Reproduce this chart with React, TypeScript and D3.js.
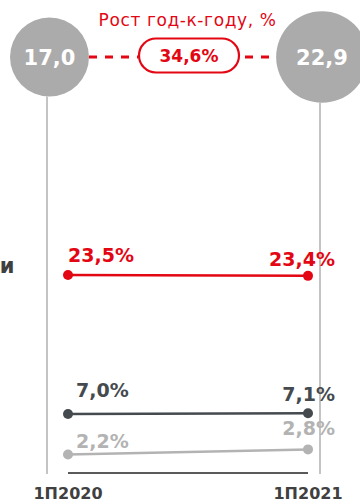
import React from "react";
import * as d3 from "d3";

const periods = ["1П2020", "1П2021"];
const totals = [17.0, 22.9];
const growthLabel = "34,6%";
const titleText = "Рост год-к-году, %";
const seriesRed = [23.5, 23.4];
const seriesDark = [7.0, 7.1];
const seriesGray = [2.2, 2.8];
const cutLabel = "и";

const W = 360;
const H = 502;
const RED = "#e30613";
const DARK = "#454a4f";
const GRAY = "#b3b3b3";
const CIRCLE = "#ababab";
const VLINE = "#c4c4c4";
const FONT = "'DejaVu Sans', Verdana, sans-serif";

const fmt = (v: number) => v.toFixed(1).replace(".", ",");

export default function App() {
  const xData = d3.scalePoint<string>().domain(periods).range([68, 308]);
  const xLine = d3.scalePoint<string>().domain(periods).range([47, 320]);
  const xCircle = d3.scalePoint<string>().domain(periods).range([49.5, 322]);
  const y = d3.scaleLinear().domain([0, 23.5]).range([473, 275]);
  const r = d3.scaleSqrt().domain([0, 17]).range([0, 39.5]);
  const cy = 57;

  const series = [
    { values: seriesRed, color: RED, labelDy: [-13, -10], sw: 2.5 },
    { values: seriesDark, color: DARK, labelDy: [-17, -12], sw: 2.5 },
    { values: seriesGray, color: GRAY, labelDy: [-6, -14], sw: 2.5 },
  ];

  const line = d3
    .line<[number, number]>()
    .x((d) => d[0])
    .y((d) => d[1]);

  return (
    <svg width={W} height={H} style={{ display: "block", position: "absolute", left: 0, top: 0 }} fontFamily={FONT}>
      {/* vertical guide lines */}
      {periods.map((p, i) => (
        <line key={p} x1={xLine(p)} x2={xLine(p)} y1={cy + r(totals[i])} y2={474} stroke={VLINE} strokeWidth={2} />
      ))}
      {/* dashed connector */}
      <line x1={xCircle(periods[0])! + r(totals[0])} x2={138} y1={cy} y2={cy} stroke={RED} strokeWidth={3} strokeDasharray="8 8" />
      <line x1={245} x2={xCircle(periods[1])! - r(totals[1])} y1={cy} y2={cy} stroke={RED} strokeWidth={3} strokeDasharray="8 8" />
      {/* circles */}
      {periods.map((p, i) => (
        <g key={p}>
          <circle cx={xCircle(p)} cy={cy} r={r(totals[i])} fill={CIRCLE} />
          <text x={xCircle(p)} y={cy + 7.5} textAnchor="middle" fill="#fff" fontWeight="bold" fontSize={21}>
            {fmt(totals[i])}
          </text>
        </g>
      ))}
      {/* title */}
      <text x={187.5} y={26} textAnchor="middle" fill={RED} fontSize={17} letterSpacing={0.6}>
        {titleText}
      </text>
      {/* pill */}
      <rect x={139} y={38.5} width={100} height={34} rx={17} fill="#fff" stroke={RED} strokeWidth={2.2} />
      <text x={189} y={62} textAnchor="middle" fill={RED} fontWeight="bold" fontSize={17}>
        {growthLabel}
      </text>
      {/* cut label */}
      <text x={14.5} y={273} textAnchor="end" fill="#404040" fontWeight="bold" fontSize={21}>
        {cutLabel}
      </text>
      {/* baseline */}
      <line x1={xData(periods[0])} x2={xData(periods[1])} y1={y(0)} y2={y(0)} stroke="#5a5a5a" strokeWidth={2} />
      {/* series */}
      {series.map((s, si) => {
        const pts: [number, number][] = periods.map((p, i) => [xData(p)!, y(s.values[i])]);
        return (
          <g key={si}>
            <path d={line(pts) ?? ""} stroke={s.color} strokeWidth={s.sw} fill="none" />
            {pts.map((pt, i) => (
              <circle key={i} cx={pt[0]} cy={pt[1]} r={5} fill={s.color} />
            ))}
            <text x={pts[0][0] + (si === 0 ? 0 : 8)} y={pts[0][1] + s.labelDy[0]} fill={s.color} fontWeight="bold" fontSize={19}>
              {fmt(s.values[0]) + "%"}
            </text>
            <text x={335} y={pts[1][1] + s.labelDy[1]} textAnchor="end" fill={s.color} fontWeight="bold" fontSize={19}>
              {fmt(s.values[1]) + "%"}
            </text>
          </g>
        );
      })}
      {/* axis labels */}
      {periods.map((p) => (
        <text key={p} x={xData(p)} y={499} textAnchor="middle" fill="#404040" fontWeight="bold" fontSize={16}>
          {p}
        </text>
      ))}
    </svg>
  );
}
